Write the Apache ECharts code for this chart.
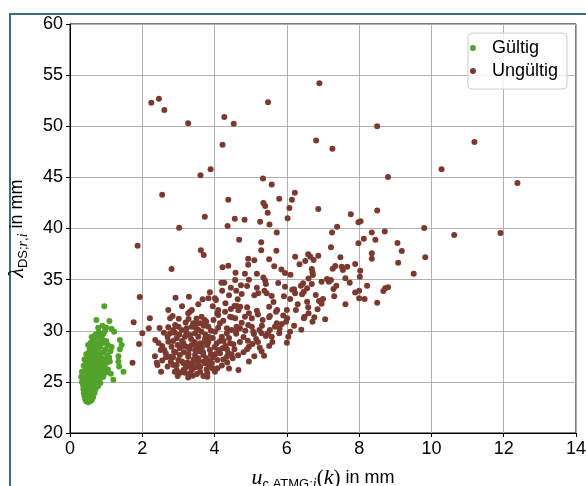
<!DOCTYPE html>
<html>
<head>
<meta charset="utf-8">
<script src="https://cdn.jsdelivr.net/npm/echarts@6/dist/echarts.min.js"></script>
<style>
  html, body { margin: 0; padding: 0; background: #fff; }
  #chart { width: 586px; height: 486px; }
</style>
</head>
<body>
<div id="chart"></div>
<script>
// values
const seriesNames = ["Gültig", "Ungültig"];
const xTicks = [0, 2, 4, 6, 8, 10, 12, 14];
const yTicks = [20, 25, 30, 35, 40, 45, 50, 55, 60];

const validPoints = [
  [0.45,23.1],[0.50,23.0],[0.55,23.1],[0.60,23.2],[0.42,23.3],[0.48,23.3],[0.53,23.4],[0.58,23.4],
  [0.64,23.5],[0.40,23.6],[0.46,23.6],[0.51,23.7],[0.56,23.7],[0.62,23.8],[0.68,23.9],[0.38,23.9],
  [0.44,24.0],[0.49,24.0],[0.54,24.1],[0.59,24.1],[0.65,24.2],[0.71,24.3],
  [0.37,24.3],[0.42,24.4],[0.47,24.4],[0.52,24.5],[0.57,24.5],[0.62,24.6],[0.67,24.6],[0.73,24.7],
  [0.36,24.7],[0.41,24.8],[0.46,24.9],[0.51,24.9],[0.56,25.0],[0.61,25.0],[0.66,25.1],[0.71,25.1],
  [0.77,25.2],[0.82,25.3],[0.78,24.6],[0.84,24.9],[0.33,25.0],[0.31,25.5],
  [0.38,25.2],[0.43,25.3],[0.48,25.4],[0.53,25.4],[0.58,25.5],[0.63,25.5],[0.68,25.6],[0.74,25.6],
  [0.79,25.7],[0.86,25.8],[0.40,25.7],[0.45,25.8],[0.50,25.9],[0.55,25.9],[0.60,26.0],[0.65,26.0],
  [0.70,26.1],[0.76,26.2],[0.83,26.2],[0.90,26.3],[1.13,25.8],[1.20,25.2],[1.48,26.0],
  [0.92,25.5],[0.98,25.9],[1.05,26.2],[0.33,26.0],
  [0.42,26.2],[0.47,26.3],[0.52,26.4],[0.57,26.4],[0.62,26.5],[0.67,26.5],[0.72,26.6],[0.78,26.7],
  [0.85,26.7],[0.93,26.8],[0.45,26.8],[0.50,26.9],[0.55,26.9],[0.60,27.0],[0.65,27.0],[0.70,27.1],
  [0.75,27.1],[0.81,27.2],[0.88,27.3],[0.97,26.4],[1.02,26.9],[1.36,26.5],[1.34,27.0],
  [1.10,27.0],[1.08,27.4],[0.96,27.2],[0.38,26.6],[0.40,27.2],
  [0.48,27.3],[0.53,27.4],[0.58,27.5],[0.63,27.5],[0.68,27.6],[0.73,27.6],[0.79,27.7],[0.86,27.8],
  [0.92,27.9],[1.03,27.6],[0.52,27.9],[0.57,28.0],[0.62,28.1],[0.67,28.1],[0.72,28.2],[0.77,28.3],
  [0.83,28.4],[1.34,27.5],[1.15,28.4],[0.98,28.2],[1.12,28.0],[0.45,27.7],
  [0.55,28.3],[0.60,28.5],[0.65,28.6],[0.70,28.7],[0.76,28.8],[0.82,28.9],[0.92,28.8],[1.05,28.6],
  [1.38,28.2],[1.43,28.6],[0.57,28.8],[0.63,29.0],[0.50,28.6],[1.00,29.0],
  [0.65,29.1],[0.74,29.4],[0.88,29.3],[0.80,29.85],[0.97,30.0],[0.70,29.6],[1.38,29.1],[1.22,29.9],
  [1.15,30.2],[1.00,30.3],[0.85,29.6],[0.60,29.4],[0.93,29.7],
  [0.73,31.05],[1.09,30.95],[0.95,32.4],[0.90,30.5],[0.78,30.3]
];

const invalidPoints = [
  [2.25,52.3],[2.46,52.7],[2.61,51.6],[3.27,50.3],[4.27,50.9],[4.53,50.25],[5.48,52.35],[6.90,54.2],
  [4.22,48.2],[6.81,48.6],[7.26,47.8],[3.61,45.2],[3.89,45.8],[5.34,44.9],[5.58,44.3],[2.55,43.3],
  [4.38,42.8],[5.79,42.9],[6.22,43.5],[6.14,42.8],[5.35,42.5],[5.40,42.2],[6.07,42.0],[6.87,41.9],
  [5.47,41.55],[3.73,41.15],[4.56,40.96],[4.83,40.86],[5.26,40.67],[6.02,41.0],[4.36,40.24],[5.52,40.4],
  [3.02,40.08],[7.39,40.18],[7.25,39.6],[5.72,39.6],[4.68,38.9],[7.77,41.4],
  [8.50,50.0],[11.19,48.46],[10.28,45.8],[8.80,45.04],[12.38,44.45],[8.50,41.75],[7.98,40.6],[8.04,40.7],
  [8.35,39.6],[8.71,39.7],[9.80,40.05],[10.63,39.37],[11.91,39.56],[8.13,39.0],[8.45,38.9],
  [7.98,38.55],[9.06,38.58],[9.18,37.8],[8.35,37.57],[8.35,37.05],[9.83,37.2],[9.08,36.65],[9.51,35.58],
  [7.22,38.16],[7.48,37.18],[7.34,36.33],[7.27,36.07],[7.52,36.26],[7.55,35.94],[7.67,36.26],[7.89,36.53],
  [8.03,35.87],[8.02,35.29],[7.62,35.13],[7.74,34.7],[7.22,34.96],[7.37,34.41],[7.29,34.08],[8.22,34.41],
  [7.31,33.37],[7.62,32.59],[7.89,33.73],[8.0,33.92],[8.0,33.17],[8.15,33.1],[8.50,32.74],[8.67,33.89],
  [8.72,34.15],[8.80,34.25],
  [1.87,38.32],[5.29,38.65],[3.62,37.87],[3.70,37.4],[5.29,37.87],[5.71,37.83],[6.59,37.48],[6.65,37.24],
  [6.87,37.34],[6.23,37.24],[5.51,36.99],[6.51,36.82],[6.74,36.92],[4.93,37.05],[4.93,36.46],[2.81,36.04],
  [4.22,36.2],[4.38,36.36],[6.69,36.04],[6.71,35.72],[6.72,35.45],[4.58,35.68],[4.84,35.58],[5.17,35.58],
  [5.95,35.65],[6.10,35.48],[7.11,35.06],[7.16,34.8],[4.57,34.96],[4.19,34.7],[4.27,34.7],[6.69,34.57],
  [6.45,34.64],[6.39,34.41],[5.40,34.9],[5.42,34.57],[5.76,34.67],[4.73,34.44],[4.90,34.37],[5.17,34.21],
  [5.38,33.92],[5.44,33.66],[3.87,33.76],[4.21,33.92],[1.93,33.3],[2.92,33.23],[3.29,33.33],[3.67,33.08],
  [3.83,33.17],[4.01,33.17],[4.04,33.0],[4.40,33.46],[4.64,33.08],[5.10,33.46],[5.21,33.66],[5.58,33.4],
  [5.63,32.81],[5.92,33.37],[6.20,34.05],[6.23,33.66],[6.09,33.1],[6.42,33.57],[6.47,33.82],[6.56,34.15],
  [6.56,32.84],[6.80,33.5],[6.89,32.9],[6.96,32.64],[6.96,34.8],[6.59,32.29],[6.25,32.03],[6.0,32.03],
  [5.73,32.03],[5.70,31.86],[5.51,32.35],[5.53,31.44],[5.51,31.31],[5.33,31.05],[5.31,30.49],[5.17,31.96],
  [4.95,31.70],[5.03,31.22],[4.66,32.0],[4.71,32.35],[4.45,32.13],[4.43,31.37],[4.48,31.31],[4.55,32.42],
  [4.62,32.42],[4.29,31.86],[4.08,31.7],[4.10,32.03],[3.73,31.05],[3.77,30.88],[3.32,31.86],[3.28,31.15],
  [3.01,31.18],[2.84,31.44],[2.21,31.22],[1.76,30.83],[2.18,30.24],[2.48,30.27],[2.72,30.34],[2.0,29.75],
  [1.91,28.7],[2.36,29.1],[1.73,26.88],[7.06,31.12],[6.76,31.31],[6.71,30.88],[6.49,31.37],[6.47,31.22],
  [6.01,31.22],[5.98,30.88],[5.86,30.66],[5.72,30.73],[5.67,30.4],[5.53,30.07],[5.58,29.42],[5.47,29.75],
  [5.42,29.49],[6.09,29.9],[6.04,29.42],[6.0,28.83],[5.79,29.75],[5.24,30.07],[5.30,29.75],[5.07,29.9],
  [5.09,29.68],[4.92,29.03],[4.95,28.44],[5.25,28.34],[5.51,28.51],[5.37,27.56],[4.66,26.16],[4.34,27.46],
  [2.72,32.03],[2.52,26.0],[2.40,26.88],[2.42,26.65],[2.98,25.57],[2.61,28.12],[2.51,28.12],[2.66,27.4],
  [2.77,29.75],[2.72,28.93],[2.81,28.44],[2.88,27.95],[2.79,26.97],[2.86,26.65],[3.0,27.14],[3.14,26.16],
  [3.18,25.9],[3.32,25.84],[3.37,26.16],[3.51,26.49],[3.78,26.23],[4.01,26.0],[4.08,26.33],[4.08,27.14],
  [4.24,27.2],[4.38,27.79],[4.47,27.69],[4.34,28.18],[4.43,28.77],[4.52,28.67],[4.06,28.77],[4.10,28.12],
  [3.87,28.12],[3.90,27.69],[3.69,27.63],[3.78,27.3],[3.55,26.97],[3.46,27.63],[3.27,27.46],[3.23,28.44],
  [3.37,28.61],[3.14,28.77],[3.04,28.28],[2.95,29.26],[3.18,29.42],[3.32,29.58],[3.46,29.75],[3.55,29.42],
  [3.64,29.9],[3.74,29.26],[3.83,28.93],[3.60,28.77],[3.51,28.44],[3.64,28.12],[3.46,28.12],[3.04,27.63],
  [2.77,27.46],[2.95,26.65],[3.14,26.82],[3.30,26.65],[3.60,26.49],[3.74,26.82],[3.92,26.82],[3.37,30.4],
  [3.41,30.73],[3.60,30.73],[3.64,31.37],[3.83,30.4],[3.97,31.05],[4.10,31.54],[4.15,30.73],[4.24,30.98],
  [4.01,29.9],[4.20,29.42],[4.34,29.75],[4.34,30.24],[4.47,30.07],[4.59,29.88],[4.61,30.4],[4.70,30.24],
  [4.75,30.79],[4.84,31.37],[4.57,31.22],[4.93,30.56],[5.03,30.4],[2.77,31.22],[2.91,30.56],[3.09,30.07],
  [3.23,30.24],[2.86,30.07],[3.27,31.7],[3.37,32.03],[3.51,30.73],[2.95,26.16],[3.27,25.44],[3.51,25.77],
  [3.69,25.57],
  [3.05,25.9],[3.20,26.4],[3.40,26.9],[3.55,27.3],[3.70,27.0],[3.85,26.5],[3.95,27.4],[4.15,27.8],
  [4.30,28.5],[4.55,28.2],[4.70,28.9],[4.80,29.4],[4.25,29.0],[4.00,28.4],[3.80,28.6],[3.65,28.4],
  [3.45,28.9],[3.30,28.2],[3.15,27.9],[2.98,28.6],[2.85,29.0],[2.70,29.4],[2.60,29.8],[2.55,28.5],
  [2.65,27.8],[2.85,27.4],[3.10,27.0],[3.25,26.9],[3.45,26.4],[3.60,26.0],[3.80,25.9],[3.95,26.3],
  [4.20,26.6],[4.35,26.9],[4.50,27.3],[4.65,27.6],[4.80,27.9],[4.90,28.2],[5.05,28.7],[5.15,29.2],
  [5.20,28.9],[4.10,30.3],[3.90,30.0],[3.70,30.5],[3.50,31.2],[3.20,30.8],[3.00,30.4],[2.90,29.8],
  [3.10,29.0],[3.35,29.2],[3.55,30.1],[3.75,29.6],[3.95,29.3],[4.15,29.0],[4.40,29.3],[4.60,29.7],
  [4.85,30.0],[2.45,28.8],[2.35,27.5],[2.55,27.1],[2.70,26.5],[2.90,26.0],[3.40,25.6],[3.80,25.5],
  [4.40,26.3],[4.95,27.0],[5.10,27.5],[5.30,28.0],[5.60,28.9],[5.80,30.2],[6.20,30.5],[6.40,30.1],
  [6.60,31.7],[6.85,32.1],[7.00,33.1],[6.30,32.6],[5.90,31.5],[5.20,31.6],[4.90,32.3],[4.75,33.6],
  [4.30,32.7],[3.95,32.4],[3.55,32.6],[3.10,32.4],[5.65,36.3],[5.85,36.0],[6.35,36.5],[5.10,36.9],
  [6.60,35.1],[6.15,34.0],[5.95,34.3],[5.35,35.2],[4.45,34.2],[4.60,33.9],[4.95,35.0],
  [3.12,28.5],[3.28,27.7],[3.42,27.2],[3.58,28.0],[3.72,28.9],[3.88,27.0],[4.02,27.7],[3.22,29.8],
  [3.48,30.3],[3.68,27.9],[3.35,26.4],[3.85,29.4],[4.22,28.3],[2.92,27.9],[3.02,29.6]
];

const GREEN = "#52a22b";
const BROWN = "#7b3a30";
const SANS = "Liberation Sans, Arial, sans-serif";
const SERIF = "Liberation Serif, DejaVu Serif, serif";

const chart = echarts.init(document.getElementById("chart"), null, { renderer: "canvas" });

const mathRich = {
  m: { fontFamily: SERIF, fontStyle: "italic", fontSize: 22, color: "#000", lineHeight: 26 },
  p: { fontFamily: SERIF, fontSize: 21, color: "#000", lineHeight: 26 },
  s: { fontFamily: SANS, fontSize: 13, color: "#000", lineHeight: 12, verticalAlign: "bottom" },
  si: { fontFamily: SERIF, fontStyle: "italic", fontSize: 14, color: "#000", lineHeight: 12, verticalAlign: "bottom" },
  t: { fontFamily: SANS, fontSize: 18, color: "#000", lineHeight: 26 }
};

const option = {
  animation: false,
  backgroundColor: "#fff",
  textStyle: { fontFamily: SANS },
  grid: {
    left: 70,
    right: 10,
    top: 24,
    bottom: 53,
    containLabel: false,
    outerBoundsMode: "none",
    show: true,
    borderColor: "#000",
    borderWidth: 1,
    backgroundColor: "transparent"
  },
  legend: {
    data: seriesNames,
    orient: "vertical",
    right: 19,
    top: 33,
    icon: "circle",
    itemWidth: 28,
    itemHeight: 6,
    itemGap: 3,
    padding: [5, 9, 8, 2],
    backgroundColor: "rgba(255,255,255,0.8)",
    borderColor: "#cccccc",
    borderWidth: 1,
    borderRadius: 4,
    textStyle: { fontFamily: SANS, fontSize: 18, color: "#000", lineHeight: 20 }
  },
  xAxis: {
    type: "value",
    min: xTicks[0],
    max: xTicks[xTicks.length - 1],
    interval: 2,
    name: "{m|u}{s|c,ATMG;}{si|i}{p|(}{m|k}{p|)}{t| in mm}",
    nameLocation: "middle",
    nameGap: 32,
    nameTextStyle: { rich: mathRich },
    axisLine: { show: true, onZero: false, lineStyle: { color: "#000", width: 1 } },
    axisTick: { show: true, inside: false, length: 4, lineStyle: { color: "#000" } },
    axisLabel: { fontFamily: SANS, fontSize: 18, color: "#000", margin: 7 },
    splitLine: { show: true, lineStyle: { color: "#b0b0b0", width: 1 } }
  },
  yAxis: {
    type: "value",
    min: yTicks[0],
    max: yTicks[yTicks.length - 1],
    interval: 5,
    name: "{m|λ}{s|DS;}{si|r}{s|,}{si|i}{t| in mm}",
    nameLocation: "middle",
    nameRotate: 90,
    nameGap: 40,
    nameTextStyle: { rich: mathRich },
    axisLine: { show: true, onZero: false, lineStyle: { color: "#000", width: 1 } },
    axisTick: { show: true, inside: false, length: 4, lineStyle: { color: "#000" } },
    axisLabel: { fontFamily: SANS, fontSize: 18, color: "#000", margin: 7 },
    splitLine: { show: true, lineStyle: { color: "#b0b0b0", width: 1 } }
  },
  graphic: [
    {
      type: "rect",
      silent: true,
      z: -10,
      shape: { x: 10, y: 14, width: 640, height: 540 },
      style: { fill: "none", stroke: "#3d6b80", lineWidth: 2 }
    }
  ],
  series: [
    {
      name: seriesNames[0],
      type: "scatter",
      data: validPoints,
      symbolSize: 6,
      itemStyle: { color: GREEN, opacity: 1 },
      z: 2
    },
    {
      name: seriesNames[1],
      type: "scatter",
      data: invalidPoints,
      symbolSize: 6,
      itemStyle: { color: BROWN, opacity: 1 },
      z: 3
    }
  ]
};

chart.setOption(option);
</script>
</body>
</html>
